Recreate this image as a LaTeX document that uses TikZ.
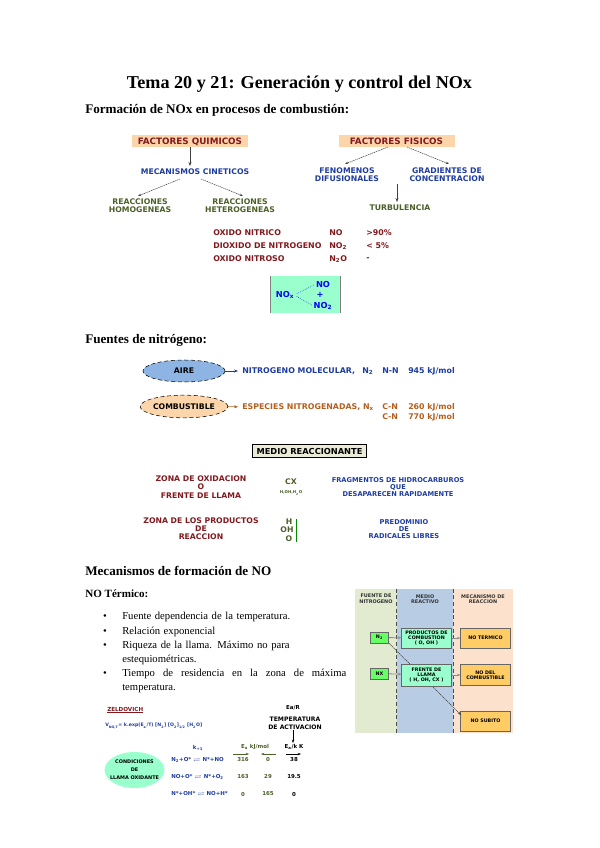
\documentclass[tikz,border=0pt]{standalone}
\usepackage{fontspec,amsmath,amssymb}
\setmainfont{Liberation Serif}
\newfontfamily\diagfont{DejaVu Sans}
\usetikzlibrary{arrows.meta,positioning,shapes.geometric}
\definecolor{nxred}{RGB}{130,25,30}
\definecolor{nxblue}{RGB}{30,60,160}
\definecolor{nxolive}{RGB}{75,95,40}
\definecolor{nxbrown}{RGB}{180,95,30}
\definecolor{nxpeach}{RGB}{252,213,170}
\definecolor{nxmint}{RGB}{153,255,204}
\definecolor{nxsky}{RGB}{141,180,226}
\definecolor{nxpale}{RGB}{226,234,208}
\definecolor{nxsteel}{RGB}{184,204,228}
\definecolor{nxcream}{RGB}{252,226,205}
\definecolor{nxlime}{RGB}{102,255,102}
\definecolor{nxgold}{RGB}{255,204,102}
\definecolor{nxbeige}{RGB}{235,235,215}
\tikzset{
  titletext/.style={font=\fontsize{13.6}{15}\selectfont\bfseries, inner sep=0pt},
  headtext/.style={font=\fontsize{9.85}{12}\selectfont\bfseries, anchor=west, inner sep=0pt},
  bodytext/.style={font=\fontsize{8}{10.5}\selectfont, anchor=north west, inner sep=0pt,
                   text width=168pt},
  dot/.style={font=\fontsize{8}{10.5}\selectfont, inner sep=0pt},
  factor/.style={fill=nxpeach, text=nxred, font=\diagfont\fontsize{6.6}{7}\selectfont\bfseries,
                 minimum width=87pt, minimum height=9pt, inner sep=0pt,
                 text height=5pt, text depth=0pt},
  dlabel/.style={text=#1, font=\diagfont\fontsize{5.8}{6.2}\selectfont\bfseries,
                 align=center, inner sep=0pt},
  tlabel/.style={text=#1, font=\diagfont\fontsize{5.9}{6.2}\selectfont\bfseries,
                 anchor=west, inner sep=0pt},
  blob/.style={draw=black, densely dashed, ellipse, fill=#1, inner sep=0pt,
               font=\diagfont\fontsize{5.8}{6.2}\selectfont\bfseries, align=center},
  bigtag/.style={draw=black, thick, fill=nxbeige, minimum width=85pt, minimum height=10pt,
                 inner sep=0pt, font=\diagfont\fontsize{6.2}{7}\selectfont\bfseries},
  smalllabel/.style={text=#1, font=\diagfont\fontsize{5}{5.3}\selectfont\bfseries,
                 align=center, inner sep=0pt},
  minibox/.style={draw=black!60, semithick, fill=#1, inner sep=0pt, align=center,
                  font=\diagfont\fontsize{3.6}{4}\selectfont\bfseries},
  minihead/.style={align=center, inner sep=0pt, text=black!80,
                   font=\diagfont\fontsize{3.7}{4.2}\selectfont\bfseries},
  flow/.style={-{Stealth[length=3pt]}, black!75, thin},
  thinflow/.style={-{Stealth[length=2.5pt]}, black!75, dash pattern=on 1pt off 0.5pt},
  graylink/.style={-{Stealth[length=2.5pt]}, black!45, semithick},
  eqtext/.style={text=#1, font=\diagfont\fontsize{4.1}{5}\selectfont\bfseries, inner sep=0pt},
}
\begin{document}
\begin{tikzpicture}[x=0.75pt, y=-0.75pt]
\useasboundingbox (0,0) rectangle (599,848);

% --- Headings ---
\node[titletext] (title) at (299.5,84) {Tema 20 y 21: Generación y control del NOx};
\node[headtext] (headform) at (85,110) {Formación de NOx en procesos de combustión:};
\node[headtext] (headfuent) at (85,340) {Fuentes de nitrógeno:};
\node[headtext] (headmec) at (85,571) {Mecanismos de formación de NO};
\node[headtext, font=\fontsize{8.3}{10}\selectfont\bfseries] (headterm) at (85,594) {NO Térmico:};

% --- Factores ---
\node[factor] (quimicos) at (190,141) {FACTORES QUIMICOS};
\node[factor] (fisicos) at (396.5,141) {FACTORES FISICOS};
\node[dlabel=nxblue] (cineticos) at (195,172) {MECANISMOS CINETICOS};
\node[dlabel=nxolive] (homog) at (140,206) {REACCIONES\\HOMOGENEAS};
\node[dlabel=nxolive] (heterog) at (240,206) {REACCIONES\\HETEROGENEAS};
\node[dlabel=nxblue] (fenomenos) at (347,175) {FENOMENOS\\DIFUSIONALES};
\node[dlabel=nxblue] (gradientes) at (447,175) {GRADIENTES DE\\CONCENTRACION};
\node[dlabel=nxolive] (turbulencia) at (400,208) {TURBULENCIA};
\coordinate (turbtop) at (397,184);
\coordinate (cinl) at (180,179);
\coordinate (cinr) at (201,179);
\coordinate (homotop) at (138,196);
\coordinate (hetetop) at (243,196);
\coordinate (fisl) at (388,147);
\coordinate (fisr) at (407,147);
\coordinate (fentop) at (345,164);
\coordinate (gratop) at (449,164);
\coordinate (cintop) at (190,166);
\coordinate (turbend) at (397,202);
\draw[flow] (quimicos.south -| cintop) -- (cintop);
\draw[thinflow] (cinl) -- (homotop);
\draw[thinflow] (cinr) -- (hetetop);
\draw[thinflow] (fisl) -- (fentop);
\draw[thinflow] (fisr) -- (gratop);
\draw[flow] (turbtop) -- (turbend);

% --- Oxidos ---
\node[tlabel=nxred] (oxnit) at (213,233) {OXIDO NITRICO};
\node[tlabel=nxred] (oxdio) at (213,246) {DIOXIDO DE NITROGENO};
\node[tlabel=nxred] (oxoso) at (213,259) {OXIDO NITROSO};
\node[tlabel=nxred] (fno) at (329,233) {NO};
\node[tlabel=nxred] (fnodos) at (329,246) {NO\textsubscript{2}};
\node[tlabel=nxred] (fndos) at (329,259) {N\textsubscript{2}O};
\node[tlabel=nxred] (pnoventa) at (366,233) {>90\%};
\node[tlabel=nxred] (pcinco) at (366,246) {< 5\%};
\node[tlabel=nxred] (ptraza) at (366,259) {-};

% --- NOx ---
\node[fill=nxmint, draw=none, minimum width=51.75pt, minimum height=27.75pt, inner sep=0pt] (noxbox) at (305.5,294.5) {};
\draw[gray, thick] (noxbox.north west) -- (noxbox.south west);
\draw[gray, thick] (noxbox.north east) -- (noxbox.south east);
\tikzset{noxtext/.style={text=blue, font=\diagfont\fontsize{6.2}{7}\selectfont\bfseries, inner sep=0pt}}
\node[noxtext] (noxa) at (285,295) {NO\textsubscript{x}};
\node[noxtext] (noxb) at (323,284) {NO};
\node[noxtext] (noxc) at (320,295) {+};
\node[noxtext] (noxd) at (323,306) {NO\textsubscript{2}};
\draw[blue, densely dotted, shorten <=2pt, shorten >=1pt] (noxa.east) -- (noxb.west);
\draw[blue, densely dotted, shorten <=2pt, shorten >=1pt] (noxa.east) -- (noxd.west);

% --- Fuentes ---
\node[blob=nxsky, minimum width=61.5pt, minimum height=16.5pt] (aire) at (184,371) {AIRE};
\node[blob=nxpeach, minimum width=61.5pt, minimum height=17pt] (combust) at (184,406.5) {COMBUSTIBLE};
\node[tlabel=nxblue] (molecular) at (242,371) {NITROGENO MOLECULAR,};
\node[tlabel=nxblue] (ndos) at (362,371) {N\textsubscript{2}};
\node[tlabel=nxblue] (triple) at (382,371) {N-N};
\node[tlabel=nxblue] (enuno) at (408,371) {945 kJ/mol};
\node[tlabel=nxbrown] (especies) at (242,407) {ESPECIES NITROGENADAS, N\textsubscript{x}};
\node[tlabel=nxbrown] (cnuno) at (382,407) {C-N};
\node[tlabel=nxbrown] (endos) at (408,407) {260 kJ/mol};
\node[tlabel=nxbrown] (cndos) at (382,417) {C-N};
\node[tlabel=nxbrown] (entres) at (408,417) {770 kJ/mol};
\draw[-{Stealth[length=3pt]}, nxblue, shorten >=3pt] (aire.east) -- (molecular.west);
\draw[-{Stealth[length=3pt]}, nxbrown, shorten >=3pt] (combust.east) -- (especies.west);

% --- Medio reaccionante ---
\node[bigtag] (medio) at (309.5,451) {MEDIO REACCIONANTE};
\node[dlabel=nxred] (zonaox) at (201,487) {ZONA DE OXIDACION\\O\\FRENTE DE LLAMA};
\node[dlabel=nxolive] (cx) at (291,482) {CX};
\node[eqtext=nxolive, font=\diagfont\fontsize{3}{4}\selectfont\bfseries] (hoh) at (291,493) {H,OH,H\textsubscript{2}O};
\node[smalllabel=nxblue] (fragm) at (398,487) {FRAGMENTOS DE HIDROCARBUROS\\QUE\\DESAPARECEN RAPIDAMENTE};
\node[dlabel=nxred] (zonapr) at (201,528.5) {ZONA DE LOS PRODUCTOS\\DE\\REACCION};
\node[dlabel=nxolive] (radh) at (289,521.5) {H};
\node[dlabel=nxolive] (radoh) at (287,530) {OH};
\node[dlabel=nxolive] (rado) at (289,539) {O};
\coordinate (bartop) at (296,519);
\coordinate (barend) at (296,542);
\draw[green!55!black] (bartop) -- (barend);
\node[smalllabel=nxblue] (predom) at (404,529.5) {PREDOMINIO\\DE\\RADICALES LIBRES};

% --- Lista ---
\node[dot] (dota) at (105,617) {\textbullet};
\node[dot] (dotb) at (105,632) {\textbullet};
\node[dot] (dotc) at (105,646) {\textbullet};
\node[dot] (dotd) at (105,674) {\textbullet};
\node[bodytext] (itema) at (122,611.5) {Fuente dependencia de la temperatura.};
\node[bodytext] (itemb) at (122,626.5) {Relación exponencial};
\node[bodytext, align=left] (itemc) at (122,640.5) {Riqueza de la llama. Máximo no para\\estequiométricas.};
\node[bodytext] (itemd) at (122,668.5) {Tiempo\hfill de\hfill residencia\hfill en\hfill la\hfill zona\hfill de\hfill máxima\\temperatura.};

% --- Esquema de mecanismos ---
\node[fill=nxpale, minimum width=31.5pt, minimum height=108pt, inner sep=0pt] (panelfuente) at (376,661) {};
\node[fill=nxsteel, minimum width=42pt, minimum height=108pt, inner sep=0pt] (panelmedio) at (425,661) {};
\node[fill=nxcream, minimum width=45pt, minimum height=108pt, inner sep=0pt] (panelmec) at (483,661) {};
\draw[densely dashed, black!70] (panelmedio.north west) -- (panelmedio.south west);
\draw[densely dashed, black!70] (panelmedio.north east) -- (panelmedio.south east);
\node[minihead] (hfuente) at (376,599) {FUENTE DE\\NITROGENO};
\node[minihead] (hmedio) at (425,599) {MEDIO\\REACTIVO};
\node[minihead] (hmec) at (483,599) {MECANISMO DE\\REACCION};
\node[minibox=nxlime, minimum width=14pt, minimum height=8.25pt] (nitro) at (379.5,637.5) {N\textsubscript{2}};
\node[minibox=nxlime, minimum width=14pt, minimum height=8.25pt] (nxbox) at (379.5,673.5) {NX};
\node[minibox=nxgold, minimum width=37pt, minimum height=15pt] (termico) at (485.5,638) {NO TERMICO};
\node[minibox=nxgold, minimum width=37pt, minimum height=16pt] (delcomb) at (485.5,675) {NO DEL\\COMBUSTIBLE};
\node[minibox=nxgold, minimum width=37pt, minimum height=15pt] (subito) at (485.5,721) {NO SUBITO};
\coordinate (subin) at (461,715);
\draw[thinflow] (nitro.south east) -- (subin);
\node[minibox=nxmint, minimum width=37pt, minimum height=15pt] (productos) at (426.5,638) {PRODUCTOS DE\\COMBUSTION\\( O, OH )};
\node[minibox=nxmint, minimum width=37pt, minimum height=16.5pt] (frente) at (426.5,675) {FRENTE DE\\LLAMA\\( H, OH, CX )};
\draw[graylink] (nitro) -- (productos);
\draw[graylink] (nxbox) -- (frente);
\draw[graylink] (productos) -- (termico);
\draw[graylink] (frente) -- (delcomb);

% --- Zeldovich ---
\node[eqtext=nxred, anchor=west, font=\diagfont\fontsize{4.2}{5}\selectfont\bfseries] (zeld) at (107,710) {\underline{ZELDOVICH}};
\node[eqtext=nxblue, anchor=west, font=\diagfont\fontsize{3.5}{5}\selectfont\bfseries] (vno) at (105,726) {V\textsubscript{NO,T}= k.exp(E\textsubscript{a}/T) [N\textsubscript{2}] [O\textsubscript{2}]\textsubscript{1/2} [H\textsubscript{2}O]};
\node[eqtext=black] (ear) at (293,708) {Ea/R};
\node[eqtext=black, align=center, font=\diagfont\fontsize{4.6}{6}\selectfont\bfseries] (tempact) at (295,723) {TEMPERATURA\\DE ACTIVACION};
\coordinate (actend) at (293,743);
\draw[-{Stealth[length=2.5pt]}, black] (tempact.south -| actend) -- (actend);
\node[blob=nxmint, draw=none, inner sep=-2.5pt, minimum width=44pt, minimum height=27pt, font=\diagfont\fontsize{3.7}{6}\selectfont\bfseries] (llama) at (134.5,770) {CONDICIONES\\DE\\LLAMA OXIDANTE};
\node[eqtext=nxblue] (kuno) at (198,748) {k\textsubscript{+1}};
\node[eqtext=nxolive] (eakj) at (255,747) {E\textsubscript{a} kJ/mol};
\node[eqtext=black] (eak) at (294,747) {E\textsubscript{a}/k K};
\node[eqtext=nxblue, anchor=west] (reaca) at (171,760) {N\textsubscript{2}+O* $\rightleftharpoons$ N*+NO};
\node[eqtext=nxblue, anchor=west] (reacb) at (171,777) {NO+O* $\rightleftharpoons$ N*+O\textsubscript{2}};
\node[eqtext=nxblue, anchor=west] (reacc) at (171,794) {N*+OH* $\rightleftharpoons$ NO+H*};
\node[eqtext=nxolive] (vaa) at (243,760) {316};
\node[eqtext=nxolive] (vab) at (268,760) {0};
\node[eqtext=black] (vac) at (294,760) {38};
\node[eqtext=nxolive] (vba) at (243,777) {163};
\node[eqtext=nxolive] (vbb) at (268,777) {29};
\node[eqtext=black] (vbc) at (294,777) {19.5};
\node[eqtext=nxolive] (vca) at (243,794) {0};
\node[eqtext=nxolive] (vcb) at (268,794) {165};
\node[eqtext=black] (vcc) at (294,794) {0};
\coordinate (fwa) at (233,754);
\coordinate (fwb) at (249,754);
\coordinate (bka) at (276,754);
\coordinate (bkb) at (261,754);
\coordinate (fca) at (286,754);
\coordinate (fcb) at (301,754);
\draw[-{Stealth[length=2.5pt]}, nxolive] (fwa) -- (fwb);
\draw[-{Stealth[length=2.5pt]}, nxolive] (bka) -- (bkb);
\draw[-{Stealth[length=2.5pt]}, black] (fca) -- (fcb);

\end{tikzpicture}
\end{document}
